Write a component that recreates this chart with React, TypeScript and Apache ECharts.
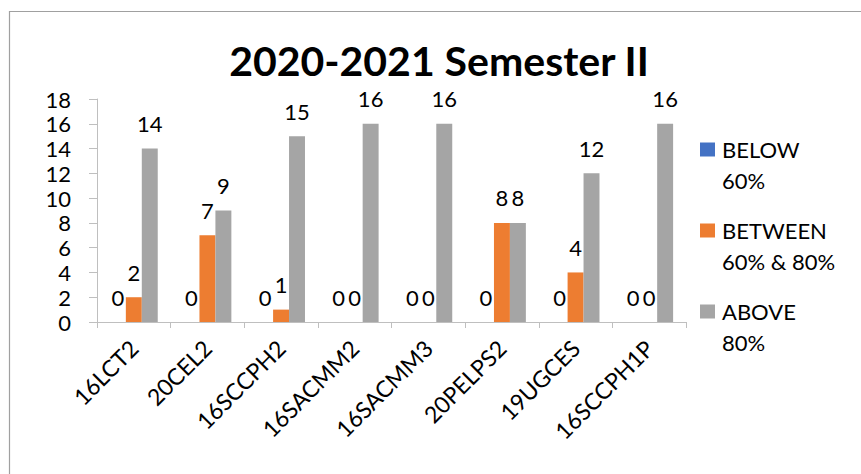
import React, { useEffect, useRef } from "react";
import * as echarts from "echarts";

const categories = ["16LCT2", "20CEL2", "16SCCPH2", "16SACMM2", "16SACMM3", "20PELPS2", "19UGCES", "16SCCPH1P"];
const belowValues = [0, 0, 0, 0, 0, 0, 0, 0];
const betweenValues = [2, 7, 1, 0, 0, 8, 4, 0];
const aboveValues = [14, 9, 15, 16, 16, 8, 12, 16];
const seriesNames = ["BELOW 60%", "BETWEEN 60% & 80%", "ABOVE 80%"];
const legendLines: Record<string, string> = {
  "BELOW 60%": "\nBELOW\n60%",
  "BETWEEN 60% & 80%": "\nBETWEEN\n60% & 80%",
  "ABOVE 80%": "\nABOVE\n80%",
};
const colors = ["#4472C4", "#ED7D31", "#A5A5A5"];
const FONT = "Lato";

export default function App() {
  const ref = useRef<HTMLDivElement>(null);
  useEffect(() => {
    if (!ref.current) return;
    const chart = echarts.init(ref.current, null, { renderer: "svg" });
    const label = {
      show: true,
      position: "top",
      distance: 14,
      color: "#000",
      fontFamily: FONT,
      fontSize: 22,
    };
    const mk = (name: string, data: number[], color: string) => ({
      name,
      type: "bar",
      data,
      barGap: "0%",
      barCategoryGap: "35%",
      itemStyle: { color },
      label,
    });
    chart.setOption({
      animation: false,
      backgroundColor: "#fff",
      textStyle: { fontFamily: FONT },
      title: {
        text: "2020-2021 Semester II",
        left: 434,
        textAlign: "center",
        top: 35,
        textStyle: { fontFamily: FONT, fontWeight: "bold", fontSize: 41, lineHeight: 40, color: "#000" },
      },
      legend: {
        orient: "vertical",
        left: 700,
        top: 103,
        padding: 0,
        itemWidth: 15,
        itemHeight: 14,
        itemGap: -12,
        icon: "rect",
        data: seriesNames,
        formatter: (n: string) => legendLines[n] || n,
        textStyle: {
          fontFamily: FONT,
          fontSize: 22,
          color: "#000",
          lineHeight: 31,
          padding: [0, 0, 0, 2],
        },
      },
      grid: { left: 97, right: 175, top: 99, bottom: 152, containLabel: false },
      xAxis: {
        type: "category",
        data: categories,
        axisLine: { lineStyle: { color: "#BFBFBF", width: 1 } },
        axisTick: { show: true, length: 6, alignWithLabel: false, lineStyle: { color: "#BFBFBF" } },
        axisLabel: { rotate: 45, margin: 22, color: "#000", fontFamily: FONT, fontSize: 23, interval: 0 },
      },
      yAxis: {
        type: "value",
        min: 0,
        max: 18,
        interval: 2,
        axisLine: { show: true, lineStyle: { color: "#BFBFBF", width: 1 } },
        axisTick: { show: true, length: 8, lineStyle: { color: "#BFBFBF" } },
        splitLine: { show: false },
        axisLabel: { margin: 26, color: "#000", fontFamily: FONT, fontSize: 22, lineHeight: 22 },
      },
      graphic: [
        {
          type: "rect",
          shape: { x: 9.5, y: 11.5, width: 900, height: 500 },
          style: { fill: "none", stroke: "#A0A0A0", lineWidth: 1.2 },
          silent: true,
          z: -1,
        },
      ],
      series: [
        mk(seriesNames[0], belowValues, colors[0]),
        mk(seriesNames[1], betweenValues, colors[1]),
        mk(seriesNames[2], aboveValues, colors[2]),
      ],
    });
    return () => chart.dispose();
  }, []);
  return (
    <div
      ref={ref}
      style={{ position: "absolute", left: 0, top: 0, width: 861, height: 474 }}
    />
  );
}
